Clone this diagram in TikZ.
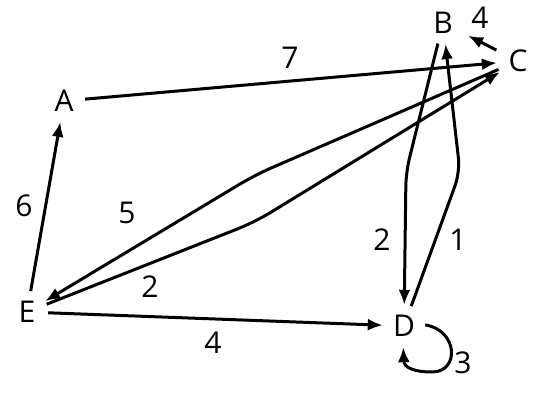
\documentclass[tikz,border=0pt]{standalone}
\usepackage{fontspec}
\setmainfont{Open Sans}
\usetikzlibrary{arrows.meta}
\begin{document}
\begin{tikzpicture}[x=1pt,y=-1pt,
 vtx/.style={circle,minimum size=42pt,inner sep=0pt,font=\fontsize{30}{36}\selectfont},
 lbl/.style={inner sep=0pt,font=\fontsize{30}{36}\selectfont},
 edge/.style={line width=3pt,-{Latex[length=15pt,width=12pt]}},
]
\useasboundingbox (0,0) rectangle (535,412);
\node[vtx] (A) at (64,101) {A};
\node[vtx] (B) at (443,23) {B};
\node[vtx] (C) at (518,61) {C};
\node[vtx] (D) at (404,326) {D};
\node[vtx] (E) at (27,312) {E};
\coordinate (bd) at (406,172);
\coordinate (db) at (460,172);
\coordinate (ce) at (255,175);
\coordinate (ec) at (255,222);
\draw[edge] (A) -- (C);
\draw[edge,shorten <=3pt,shorten >=7pt] (C) -- (B);
\draw[edge,rounded corners=14pt] (B) -- (bd) -- (D);
\draw[edge,rounded corners=14pt] (D) -- (db) -- (B);
\draw[edge,rounded corners=18pt] (C) -- (ce) -- (E);
\draw[edge,rounded corners=18pt] (E) -- (ec) -- (C);
\draw[edge] (E) -- (D);
\draw[edge] (E) -- (A);
\draw[edge] (D.3) .. controls (458,330) and (460,372) .. (432,372) .. controls (415,372) and (404,368) .. (D.-92);
\node[lbl] (l7) at (290,58) {7};
\node[lbl] (l4a) at (480,18) {4};
\node[lbl] (l2a) at (382,240) {2};
\node[lbl] (l1) at (458,240) {1};
\node[lbl] (l5) at (127,213) {5};
\node[lbl] (l2b) at (150,287) {2};
\node[lbl] (l4b) at (213,343) {4};
\node[lbl] (l6) at (24,206) {6};
\node[lbl] (l3) at (463,363) {3};
\end{tikzpicture}
\end{document}
